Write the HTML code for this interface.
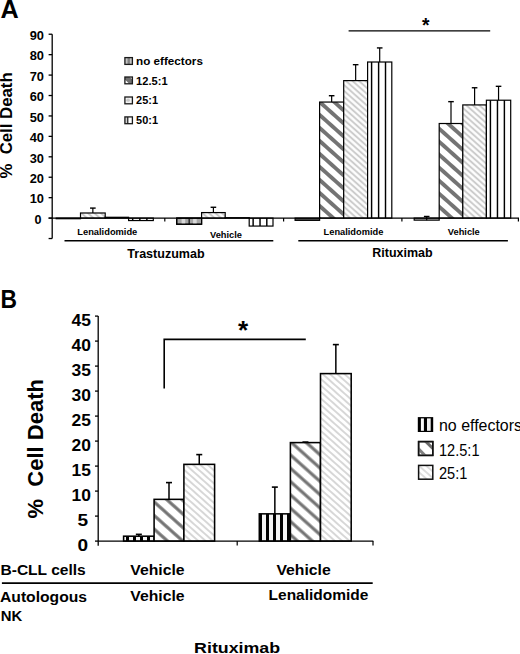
<!DOCTYPE html>
<html><head><meta charset="utf-8"><style>
html,body{margin:0;padding:0;background:#fff;}
svg{display:block;}
text{font-family:"Liberation Sans",sans-serif;fill:#000;}
.b{font-weight:bold;}
</style></head><body>
<svg width="520" height="654" viewBox="0 0 520 654">
<defs>
<pattern id="pneb" patternUnits="userSpaceOnUse" x="259" width="7" height="7">
<rect width="7" height="7" fill="#f4f4f4"/><rect x="0" width="3" height="7" fill="#000"/></pattern>
</defs>
<rect width="520" height="654" fill="#fff"/>

<text class="b" x="0.5" y="18.2" font-size="25.5" textLength="18.2" lengthAdjust="spacingAndGlyphs">A</text>
<text class="b" font-size="16.5" transform="translate(12,178.6) rotate(-90)" textLength="106.3" lengthAdjust="spacingAndGlyphs" xml:space="preserve">%  Cell Death</text>
<line x1="52.2" y1="34.23" x2="52.2" y2="238.53" stroke="#000" stroke-width="1.3"/>
<line x1="48.6" y1="238.53" x2="52.2" y2="238.53" stroke="#000" stroke-width="1.3"/>
<line x1="48.6" y1="218.10" x2="52.2" y2="218.10" stroke="#000" stroke-width="1.3"/>
<text class="b" x="41.5" y="223.90" font-size="12" text-anchor="end" textLength="7" lengthAdjust="spacingAndGlyphs">0</text>
<line x1="48.6" y1="197.67" x2="52.2" y2="197.67" stroke="#000" stroke-width="1.3"/>
<text class="b" x="44" y="203.47" font-size="12" text-anchor="end" textLength="14.3" lengthAdjust="spacingAndGlyphs">10</text>
<line x1="48.6" y1="177.24" x2="52.2" y2="177.24" stroke="#000" stroke-width="1.3"/>
<text class="b" x="44" y="183.04" font-size="12" text-anchor="end" textLength="14.3" lengthAdjust="spacingAndGlyphs">20</text>
<line x1="48.6" y1="156.81" x2="52.2" y2="156.81" stroke="#000" stroke-width="1.3"/>
<text class="b" x="44" y="162.61" font-size="12" text-anchor="end" textLength="14.3" lengthAdjust="spacingAndGlyphs">30</text>
<line x1="48.6" y1="136.38" x2="52.2" y2="136.38" stroke="#000" stroke-width="1.3"/>
<text class="b" x="44" y="142.18" font-size="12" text-anchor="end" textLength="14.3" lengthAdjust="spacingAndGlyphs">40</text>
<line x1="48.6" y1="115.95" x2="52.2" y2="115.95" stroke="#000" stroke-width="1.3"/>
<text class="b" x="44" y="121.75" font-size="12" text-anchor="end" textLength="14.3" lengthAdjust="spacingAndGlyphs">50</text>
<line x1="48.6" y1="95.52" x2="52.2" y2="95.52" stroke="#000" stroke-width="1.3"/>
<text class="b" x="44" y="101.32" font-size="12" text-anchor="end" textLength="14.3" lengthAdjust="spacingAndGlyphs">60</text>
<line x1="48.6" y1="75.09" x2="52.2" y2="75.09" stroke="#000" stroke-width="1.3"/>
<text class="b" x="44" y="80.89" font-size="12" text-anchor="end" textLength="14.3" lengthAdjust="spacingAndGlyphs">70</text>
<line x1="48.6" y1="54.66" x2="52.2" y2="54.66" stroke="#000" stroke-width="1.3"/>
<text class="b" x="44" y="60.46" font-size="12" text-anchor="end" textLength="14.3" lengthAdjust="spacingAndGlyphs">80</text>
<line x1="48.6" y1="34.23" x2="52.2" y2="34.23" stroke="#000" stroke-width="1.3"/>
<text class="b" x="44" y="40.03" font-size="12" text-anchor="end" textLength="14.3" lengthAdjust="spacingAndGlyphs">90</text>
<rect x="56.20" y="218.10" width="24.30" height="0.61" fill="#a6a6a6" stroke="#000" stroke-width="1.2"/>
<rect x="80.50" y="212.99" width="24.70" height="5.11" fill="url(#d1)" stroke="#000" stroke-width="1.2"/>
<line x1="92.85" y1="212.99" x2="92.85" y2="208.09" stroke="#000" stroke-width="1.2"/>
<line x1="90.05" y1="208.09" x2="95.65" y2="208.09" stroke="#000" stroke-width="1.4"/>
<rect x="105.20" y="217.28" width="23.40" height="0.82" fill="url(#d2)" stroke="#000" stroke-width="1.2"/>
<rect x="128.60" y="218.10" width="24.70" height="2.45" fill="#fff" stroke="#000" stroke-width="1.2"/>
<line x1="132.68" y1="218.10" x2="132.68" y2="220.55" stroke="#000" stroke-width="1.45"/>
<line x1="139.84" y1="218.10" x2="139.84" y2="220.55" stroke="#000" stroke-width="1.45"/>
<line x1="146.88" y1="218.10" x2="146.88" y2="220.55" stroke="#000" stroke-width="1.45"/>
<rect x="176.70" y="218.10" width="24.90" height="6.13" fill="#a6a6a6" stroke="#000" stroke-width="1.2"/>
<rect x="181.62" y="218.70" width="3.6" height="4.93" fill="#d9d9d9"/>
<rect x="193.08" y="218.70" width="3.6" height="4.93" fill="#d9d9d9"/>
<line x1="189.15" y1="218.10" x2="189.15" y2="224.23" stroke="#000" stroke-width="1.1"/>
<rect x="176.70" y="218.10" width="24.90" height="6.13" fill="none" stroke="#000" stroke-width="1.2"/>
<rect x="201.60" y="212.58" width="23.60" height="5.52" fill="url(#d3)" stroke="#000" stroke-width="1.2"/>
<line x1="213.40" y1="212.58" x2="213.40" y2="207.27" stroke="#000" stroke-width="1.2"/>
<line x1="210.60" y1="207.27" x2="216.20" y2="207.27" stroke="#000" stroke-width="1.4"/>
<rect x="225.20" y="217.69" width="24.00" height="0.41" fill="url(#d4)" stroke="#000" stroke-width="1.2"/>
<rect x="249.20" y="218.10" width="23.80" height="7.97" fill="#fff" stroke="#000" stroke-width="1.2"/>
<line x1="253.13" y1="218.10" x2="253.13" y2="226.07" stroke="#000" stroke-width="1.45"/>
<line x1="260.03" y1="218.10" x2="260.03" y2="226.07" stroke="#000" stroke-width="1.45"/>
<line x1="266.81" y1="218.10" x2="266.81" y2="226.07" stroke="#000" stroke-width="1.45"/>
<rect x="295.10" y="218.10" width="24.50" height="2.25" fill="#555" stroke="#000" stroke-width="1.2"/>
<rect x="319.60" y="102.06" width="24.10" height="116.04" fill="url(#d5)" stroke="#000" stroke-width="1.2"/>
<line x1="331.65" y1="102.06" x2="331.65" y2="95.72" stroke="#000" stroke-width="1.2"/>
<line x1="328.85" y1="95.72" x2="334.45" y2="95.72" stroke="#000" stroke-width="1.4"/>
<rect x="343.70" y="80.61" width="23.90" height="137.49" fill="url(#d6)" stroke="#000" stroke-width="1.2"/>
<line x1="355.65" y1="80.61" x2="355.65" y2="64.67" stroke="#000" stroke-width="1.2"/>
<line x1="352.85" y1="64.67" x2="358.45" y2="64.67" stroke="#000" stroke-width="1.4"/>
<rect x="367.60" y="62.01" width="24.20" height="156.09" fill="#fff" stroke="#000" stroke-width="1.2"/>
<line x1="371.59" y1="62.01" x2="371.59" y2="218.10" stroke="#000" stroke-width="1.45"/>
<line x1="378.61" y1="62.01" x2="378.61" y2="218.10" stroke="#000" stroke-width="1.45"/>
<line x1="385.51" y1="62.01" x2="385.51" y2="218.10" stroke="#000" stroke-width="1.45"/>
<line x1="379.70" y1="62.01" x2="379.70" y2="47.92" stroke="#000" stroke-width="1.2"/>
<line x1="376.90" y1="47.92" x2="382.50" y2="47.92" stroke="#000" stroke-width="1.4"/>
<rect x="414.20" y="218.10" width="25.00" height="2.04" fill="#d8d8d8" stroke="#000" stroke-width="1.2"/>
<line x1="426.70" y1="220.14" x2="426.70" y2="216.47" stroke="#000" stroke-width="1.2"/>
<line x1="423.90" y1="216.47" x2="429.50" y2="216.47" stroke="#000" stroke-width="1.4"/>
<rect x="439.20" y="123.51" width="23.60" height="94.59" fill="url(#d7)" stroke="#000" stroke-width="1.2"/>
<line x1="451.00" y1="123.51" x2="451.00" y2="101.65" stroke="#000" stroke-width="1.2"/>
<line x1="448.20" y1="101.65" x2="453.80" y2="101.65" stroke="#000" stroke-width="1.4"/>
<rect x="462.80" y="104.92" width="23.60" height="113.18" fill="url(#d8)" stroke="#000" stroke-width="1.2"/>
<line x1="474.60" y1="104.92" x2="474.60" y2="87.76" stroke="#000" stroke-width="1.2"/>
<line x1="471.80" y1="87.76" x2="477.40" y2="87.76" stroke="#000" stroke-width="1.4"/>
<rect x="486.40" y="100.22" width="24.30" height="117.88" fill="#fff" stroke="#000" stroke-width="1.2"/>
<line x1="490.41" y1="100.22" x2="490.41" y2="218.10" stroke="#000" stroke-width="1.45"/>
<line x1="497.46" y1="100.22" x2="497.46" y2="218.10" stroke="#000" stroke-width="1.45"/>
<line x1="504.38" y1="100.22" x2="504.38" y2="218.10" stroke="#000" stroke-width="1.45"/>
<line x1="498.55" y1="100.22" x2="498.55" y2="86.33" stroke="#000" stroke-width="1.2"/>
<line x1="495.75" y1="86.33" x2="501.35" y2="86.33" stroke="#000" stroke-width="1.4"/>
<line x1="48.6" y1="218.1" x2="519" y2="218.1" stroke="#000" stroke-width="1.4"/>
<line x1="164.8" y1="218.1" x2="164.8" y2="221.6" stroke="#000" stroke-width="1.2"/>
<line x1="283.6" y1="218.1" x2="283.6" y2="221.6" stroke="#000" stroke-width="1.2"/>
<line x1="401.9" y1="218.1" x2="401.9" y2="221.6" stroke="#000" stroke-width="1.2"/>
<line x1="518.4" y1="218.1" x2="518.4" y2="221.6" stroke="#000" stroke-width="1.2"/>
<text class="b" x="77.3" y="235.2" font-size="9" textLength="60" lengthAdjust="spacingAndGlyphs">Lenalidomide</text>
<text class="b" x="210" y="237.6" font-size="9" textLength="32" lengthAdjust="spacingAndGlyphs">Vehicle</text>
<text class="b" x="323.6" y="234.8" font-size="9" textLength="59.7" lengthAdjust="spacingAndGlyphs">Lenalidomide</text>
<text class="b" x="447.8" y="234.7" font-size="9" textLength="32" lengthAdjust="spacingAndGlyphs">Vehicle</text>
<line x1="64.5" y1="240.8" x2="273.3" y2="240.8" stroke="#000" stroke-width="1.5"/>
<line x1="298.3" y1="240.8" x2="507.9" y2="240.8" stroke="#000" stroke-width="1.5"/>
<text class="b" x="127.3" y="257.6" font-size="12.5" textLength="77.3" lengthAdjust="spacingAndGlyphs">Trastuzumab</text>
<text class="b" x="372.3" y="257.4" font-size="12.5" textLength="60.3" lengthAdjust="spacingAndGlyphs">Rituximab</text>
<line x1="348.6" y1="30.9" x2="490.2" y2="30.9" stroke="#000" stroke-width="1.4"/>
<text class="b" x="422" y="32.3" font-size="20" textLength="7.5" lengthAdjust="spacingAndGlyphs">*</text>
<rect x="124.9" y="57.60" width="7.5" height="6.8" fill="#c4c4c4"/>
<rect x="127.50" y="57.60" width="2.4" height="6.8" fill="#808080"/>
<rect x="124.9" y="57.60" width="7.5" height="6.8" fill="none" stroke="#1a1a1a" stroke-width="1.3"/>
<text class="b" x="136.1" y="65.3" font-size="11.3" textLength="66.8" lengthAdjust="spacingAndGlyphs">no effectors</text>
<rect x="124.9" y="77.00" width="7.5" height="6.8" fill="#707070"/>
<polygon points="124.9,79.50 124.9,83.80 129.20,83.80" fill="#fff"/>
<polygon points="129.40,77.00 132.4,77.00 132.4,79.60" fill="#eee"/>
<rect x="124.9" y="77.00" width="7.5" height="6.8" fill="none" stroke="#1a1a1a" stroke-width="1.3"/>
<text class="b" x="136.1" y="84.9" font-size="11.3" textLength="31.5" lengthAdjust="spacingAndGlyphs">12.5:1</text>
<rect x="124.9" y="97.00" width="7.5" height="6.8" fill="#f2f2f2"/>
<ellipse cx="128.10" cy="100.20" rx="1.8" ry="1.6" fill="#c8c8c8"/>
<rect x="124.9" y="97.00" width="7.5" height="6.8" fill="none" stroke="#1a1a1a" stroke-width="1.3"/>
<text class="b" x="136.1" y="104.0" font-size="11.3" textLength="21.9" lengthAdjust="spacingAndGlyphs">25:1</text>
<rect x="124.9" y="116.90" width="7.5" height="6.8" fill="#fff"/>
<rect x="124.9" y="116.90" width="2.6" height="6.8" fill="#cfcfcf"/>
<line x1="127.80" y1="116.90" x2="127.80" y2="123.70" stroke="#000" stroke-width="1.1"/>
<rect x="124.9" y="116.90" width="7.5" height="6.8" fill="none" stroke="#1a1a1a" stroke-width="1.3"/>
<text class="b" x="136.1" y="123.8" font-size="11.3" textLength="21.9" lengthAdjust="spacingAndGlyphs">50:1</text>
<text class="b" x="0.6" y="307.8" font-size="25" textLength="16.5" lengthAdjust="spacingAndGlyphs">B</text>
<text class="b" font-size="22" transform="translate(42.9,518.5) rotate(-90)" textLength="139.5" lengthAdjust="spacingAndGlyphs" xml:space="preserve">%  Cell Death</text>
<line x1="98.2" y1="316.10" x2="98.2" y2="545.70" stroke="#000" stroke-width="1.3"/>
<line x1="95" y1="541.10" x2="98.2" y2="541.10" stroke="#000" stroke-width="1.3"/>
<text class="b" x="88.2" y="551.10" font-size="16.2" text-anchor="end" textLength="10.6" lengthAdjust="spacingAndGlyphs">0</text>
<line x1="95" y1="516.10" x2="98.2" y2="516.10" stroke="#000" stroke-width="1.3"/>
<text class="b" x="88.2" y="526.10" font-size="16.2" text-anchor="end" textLength="10.6" lengthAdjust="spacingAndGlyphs">5</text>
<line x1="95" y1="491.10" x2="98.2" y2="491.10" stroke="#000" stroke-width="1.3"/>
<text class="b" x="91" y="501.10" font-size="16.2" text-anchor="end" textLength="19.4" lengthAdjust="spacingAndGlyphs">10</text>
<line x1="95" y1="466.10" x2="98.2" y2="466.10" stroke="#000" stroke-width="1.3"/>
<text class="b" x="91" y="476.10" font-size="16.2" text-anchor="end" textLength="19.4" lengthAdjust="spacingAndGlyphs">15</text>
<line x1="95" y1="441.10" x2="98.2" y2="441.10" stroke="#000" stroke-width="1.3"/>
<text class="b" x="91" y="451.10" font-size="16.2" text-anchor="end" textLength="19.4" lengthAdjust="spacingAndGlyphs">20</text>
<line x1="95" y1="416.10" x2="98.2" y2="416.10" stroke="#000" stroke-width="1.3"/>
<text class="b" x="91" y="426.10" font-size="16.2" text-anchor="end" textLength="19.4" lengthAdjust="spacingAndGlyphs">25</text>
<line x1="95" y1="391.10" x2="98.2" y2="391.10" stroke="#000" stroke-width="1.3"/>
<text class="b" x="91" y="401.10" font-size="16.2" text-anchor="end" textLength="19.4" lengthAdjust="spacingAndGlyphs">30</text>
<line x1="95" y1="366.10" x2="98.2" y2="366.10" stroke="#000" stroke-width="1.3"/>
<text class="b" x="91" y="376.10" font-size="16.2" text-anchor="end" textLength="19.4" lengthAdjust="spacingAndGlyphs">35</text>
<line x1="95" y1="341.10" x2="98.2" y2="341.10" stroke="#000" stroke-width="1.3"/>
<text class="b" x="91" y="351.10" font-size="16.2" text-anchor="end" textLength="19.4" lengthAdjust="spacingAndGlyphs">40</text>
<line x1="95" y1="316.10" x2="98.2" y2="316.10" stroke="#000" stroke-width="1.3"/>
<text class="b" x="91" y="326.10" font-size="16.2" text-anchor="end" textLength="19.4" lengthAdjust="spacingAndGlyphs">45</text>
<rect x="123.60" y="536.20" width="30.50" height="4.90" fill="url(#pneb)" stroke="#000" stroke-width="1.55"/>
<line x1="138.85" y1="536.20" x2="138.85" y2="534.35" stroke="#000" stroke-width="1.5"/>
<line x1="135.85" y1="534.35" x2="141.85" y2="534.35" stroke="#000" stroke-width="1.6"/>
<rect x="154.10" y="499.35" width="29.80" height="41.75" fill="url(#d9)" stroke="#000" stroke-width="1.55"/>
<line x1="169.00" y1="499.35" x2="169.00" y2="482.60" stroke="#000" stroke-width="1.5"/>
<line x1="166.00" y1="482.60" x2="172.00" y2="482.60" stroke="#000" stroke-width="1.6"/>
<rect x="183.90" y="464.35" width="30.70" height="76.75" fill="url(#d10)" stroke="#000" stroke-width="1.55"/>
<line x1="199.25" y1="464.35" x2="199.25" y2="454.60" stroke="#000" stroke-width="1.5"/>
<line x1="196.25" y1="454.60" x2="202.25" y2="454.60" stroke="#000" stroke-width="1.6"/>
<rect x="259.30" y="513.85" width="31.10" height="27.25" fill="url(#pneb)" stroke="#000" stroke-width="1.55"/>
<line x1="274.85" y1="513.85" x2="274.85" y2="487.10" stroke="#000" stroke-width="1.5"/>
<line x1="271.85" y1="487.10" x2="277.85" y2="487.10" stroke="#000" stroke-width="1.6"/>
<rect x="290.40" y="442.60" width="30.10" height="98.50" fill="url(#d11)" stroke="#000" stroke-width="1.55"/>
<line x1="305.45" y1="442.60" x2="305.45" y2="442.10" stroke="#000" stroke-width="1.5"/>
<line x1="302.45" y1="442.10" x2="308.45" y2="442.10" stroke="#000" stroke-width="1.6"/>
<rect x="320.50" y="373.60" width="30.70" height="167.50" fill="url(#d12)" stroke="#000" stroke-width="1.55"/>
<line x1="335.85" y1="373.60" x2="335.85" y2="344.60" stroke="#000" stroke-width="1.5"/>
<line x1="332.85" y1="344.60" x2="338.85" y2="344.60" stroke="#000" stroke-width="1.6"/>
<line x1="98.2" y1="541.1" x2="373.3" y2="541.1" stroke="#000" stroke-width="1.4"/>
<line x1="237.2" y1="541.1" x2="237.2" y2="545.6" stroke="#000" stroke-width="1.2"/>
<line x1="373.0" y1="541.1" x2="373.0" y2="545.6" stroke="#000" stroke-width="1.2"/>
<polyline points="164.2,388.6 164.2,339.4 305.8,339.4" fill="none" stroke="#000" stroke-width="1.6"/>
<text class="b" x="238" y="339.3" font-size="25" textLength="10.2" lengthAdjust="spacingAndGlyphs">*</text>
<rect x="417.8" y="417.10" width="15.4" height="14.9" fill="#000"/>
<rect x="420.9" y="418.40" width="3.0" height="12.4" fill="#fcfcfc"/>
<rect x="427.0" y="418.40" width="3.7" height="12.4" fill="#f0f0f0"/>
<text x="439" y="430.6" font-size="15.7" textLength="83" lengthAdjust="spacingAndGlyphs">no effectors</text>
<rect x="418.6" y="441.60" width="14.2" height="13.8" fill="#fff" stroke="#111" stroke-width="1.5"/>
<polygon points="418.6,446.80 418.6,451.00 422.9,455.40 427.1,455.40" fill="#808080"/>
<polygon points="423.6,441.60 427.8,441.60 432.8,446.20 432.8,450.40" fill="#6c6c6c"/>
<rect x="418.6" y="441.60" width="14.2" height="13.8" fill="none" stroke="#111" stroke-width="1.5"/>
<text x="439" y="455.8" font-size="15.7" textLength="40.5" lengthAdjust="spacingAndGlyphs">12.5:1</text>
<rect x="418.6" y="465.40" width="14.2" height="13.8" fill="url(#d13)" stroke="#111" stroke-width="1.5"/>
<text x="439" y="478.7" font-size="15.7" textLength="28.4" lengthAdjust="spacingAndGlyphs">25:1</text>
<text class="b" x="0.5" y="574.9" font-size="14.3" textLength="85.2" lengthAdjust="spacingAndGlyphs">B-CLL cells</text>
<text class="b" x="130.3" y="574.8" font-size="14.3" textLength="54.3" lengthAdjust="spacingAndGlyphs">Vehicle</text>
<text class="b" x="276.4" y="575.3" font-size="14.3" textLength="54.3" lengthAdjust="spacingAndGlyphs">Vehicle</text>
<line x1="1.9" y1="583.1" x2="372.7" y2="583.1" stroke="#000" stroke-width="1.6"/>
<text class="b" x="0" y="602.2" font-size="14.3" textLength="87" lengthAdjust="spacingAndGlyphs">Autologous</text>
<text class="b" x="0.8" y="620.5" font-size="14.3" textLength="21.5" lengthAdjust="spacingAndGlyphs">NK</text>
<text class="b" x="130.3" y="600.5" font-size="14.3" textLength="54.3" lengthAdjust="spacingAndGlyphs">Vehicle</text>
<text class="b" x="268.6" y="600.2" font-size="14.3" textLength="99.8" lengthAdjust="spacingAndGlyphs">Lenalidomide</text>
<text class="b" x="194.1" y="652.8" font-size="15.3" textLength="86" lengthAdjust="spacingAndGlyphs">Rituximab</text>
<defs><pattern id="d1" patternUnits="userSpaceOnUse" width="4.101" height="4.101" patternTransform="translate(80.5,218.1) scale(1.12,1) rotate(45)"><rect width="4.101" height="4.101" fill="#fff"/><rect y="0" width="4.101" height="0.955" fill="#cccccc"/><rect y="3.147" width="4.101" height="0.955" fill="#cccccc"/></pattern><pattern id="d2" patternUnits="userSpaceOnUse" width="4.101" height="4.101" patternTransform="translate(105.2,218.1) scale(1.12,1) rotate(45)"><rect width="4.101" height="4.101" fill="#fff"/><rect y="0" width="4.101" height="0.955" fill="#cccccc"/><rect y="3.147" width="4.101" height="0.955" fill="#cccccc"/></pattern><pattern id="d3" patternUnits="userSpaceOnUse" width="4.101" height="4.101" patternTransform="translate(201.6,218.1) scale(1.12,1) rotate(45)"><rect width="4.101" height="4.101" fill="#fff"/><rect y="0" width="4.101" height="0.955" fill="#cccccc"/><rect y="3.147" width="4.101" height="0.955" fill="#cccccc"/></pattern><pattern id="d4" patternUnits="userSpaceOnUse" width="4.101" height="4.101" patternTransform="translate(225.2,218.1) scale(1.12,1) rotate(45)"><rect width="4.101" height="4.101" fill="#fff"/><rect y="0" width="4.101" height="0.955" fill="#cccccc"/><rect y="3.147" width="4.101" height="0.955" fill="#cccccc"/></pattern><pattern id="d5" patternUnits="userSpaceOnUse" width="9.192" height="9.192" patternTransform="translate(320.5,154.7) scale(1.12,1) rotate(45)"><rect width="9.192" height="9.192" fill="#fff"/><rect y="0" width="9.192" height="1.838" fill="#747474"/><rect y="7.354" width="9.192" height="1.838" fill="#747474"/></pattern><pattern id="d6" patternUnits="userSpaceOnUse" width="4.101" height="4.101" patternTransform="translate(343.7,218.1) scale(1.12,1) rotate(45)"><rect width="4.101" height="4.101" fill="#fff"/><rect y="0" width="4.101" height="0.955" fill="#cccccc"/><rect y="3.147" width="4.101" height="0.955" fill="#cccccc"/></pattern><pattern id="d7" patternUnits="userSpaceOnUse" width="9.192" height="9.192" patternTransform="translate(440.5,129.9) scale(1.12,1) rotate(45)"><rect width="9.192" height="9.192" fill="#fff"/><rect y="0" width="9.192" height="1.838" fill="#747474"/><rect y="7.354" width="9.192" height="1.838" fill="#747474"/></pattern><pattern id="d8" patternUnits="userSpaceOnUse" width="4.101" height="4.101" patternTransform="translate(462.8,218.1) scale(1.12,1) rotate(45)"><rect width="4.101" height="4.101" fill="#fff"/><rect y="0" width="4.101" height="0.955" fill="#cccccc"/><rect y="3.147" width="4.101" height="0.955" fill="#cccccc"/></pattern><pattern id="d9" patternUnits="userSpaceOnUse" width="9.617" height="9.617" patternTransform="translate(155.5,503.1) scale(1.12,1) rotate(45)"><rect width="9.617" height="9.617" fill="#fff"/><rect y="0" width="9.617" height="1.485" fill="#747474"/><rect y="8.132" width="9.617" height="1.485" fill="#747474"/></pattern><pattern id="d10" patternUnits="userSpaceOnUse" width="4.596" height="4.596" patternTransform="translate(183.9,541.1) scale(1.12,1) rotate(45)"><rect width="4.596" height="4.596" fill="#fff"/><rect y="0" width="4.596" height="0.672" fill="#c8c8c8"/><rect y="3.924" width="4.596" height="0.672" fill="#c8c8c8"/></pattern><pattern id="d11" patternUnits="userSpaceOnUse" width="9.405" height="9.405" patternTransform="translate(291.6,456.0) scale(1.12,1) rotate(45)"><rect width="9.405" height="9.405" fill="#fff"/><rect y="0" width="9.405" height="1.485" fill="#747474"/><rect y="7.920" width="9.405" height="1.485" fill="#747474"/></pattern><pattern id="d12" patternUnits="userSpaceOnUse" width="4.596" height="4.596" patternTransform="translate(320.5,541.1) scale(1.12,1) rotate(45)"><rect width="4.596" height="4.596" fill="#fff"/><rect y="0" width="4.596" height="0.672" fill="#c8c8c8"/><rect y="3.924" width="4.596" height="0.672" fill="#c8c8c8"/></pattern><pattern id="d13" patternUnits="userSpaceOnUse" width="4.596" height="4.596" patternTransform="translate(418.6,465.4) scale(1.12,1) rotate(45)"><rect width="4.596" height="4.596" fill="#fff"/><rect y="0" width="4.596" height="0.672" fill="#cfcfcf"/><rect y="3.924" width="4.596" height="0.672" fill="#cfcfcf"/></pattern></defs>
</svg>
</body></html>
